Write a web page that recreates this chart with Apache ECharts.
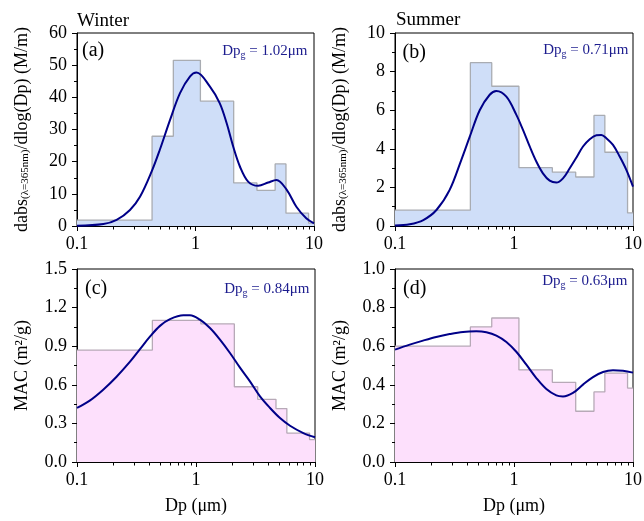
<!DOCTYPE html>
<html>
<head>
<meta charset="utf-8">
<script src="https://cdn.jsdelivr.net/npm/echarts@6/dist/echarts.min.js"></script>
<style>
  html, body { margin: 0; padding: 0; background: #fff; }
  #chart { width: 644px; height: 521px; }
</style>
</head>
<body>
<div id="chart"></div>
<script>
// ---- Data ----
const binEdges = [0.1, 0.43, 0.65, 1.1, 2.1, 3.3, 4.7, 5.8, 9.0, 10];
const minorTickPos = [0.2, 0.3, 0.4, 0.5, 0.6, 0.7, 0.8, 0.9, 2, 3, 4, 5, 6, 7, 8, 9];

const winterAbs = [1.8, 27.9, 51.5, 38.8, 13.4, 11.1, 19.3, 4.0, 0.9];
const summerAbs = [0.82, 8.46, 7.24, 3.02, 2.79, 2.54, 5.73, 3.82, 0.68];
const winterMAC = [0.87, 1.10, 1.10, 1.073, 0.585, 0.487, 0.415, 0.225, 0.174];
const summerMAC = [0.60, 0.70, 0.746, 0.477, 0.413, 0.263, 0.363, 0.461, 0.383];

const winterAbsFitX = [0.1, 0.167, 0.216, 0.28, 0.34, 0.426, 0.50, 0.61, 0.74, 0.90, 1.02, 1.32, 1.60, 1.83, 2.08, 2.37, 2.78, 3.38, 4.1, 4.82, 5.85, 7.1, 8.6, 10];
const winterAbsFitY = [0.05, 0.6, 1.9, 5.0, 9.1, 16.9, 23.7, 33.0, 41.3, 46.5, 47.7, 43.4, 38.2, 32.0, 24.7, 18.5, 13.8, 12.5, 13.5, 14.3, 11.4, 6.0, 2.4, 0.8];

const summerAbsFitX = [0.1, 0.133, 0.173, 0.223, 0.288, 0.361, 0.425, 0.515, 0.625, 0.71, 0.863, 1.047, 1.19, 1.355, 1.54, 1.75, 1.995, 2.27, 2.58, 2.94, 3.34, 3.80, 4.33, 4.92, 5.42, 5.97, 6.79, 7.73, 8.79, 10];
const summerAbsFitY = [0.02, 0.09, 0.31, 0.83, 1.87, 3.43, 4.63, 6.0, 6.8, 7.0, 6.7, 5.76, 4.98, 4.12, 3.34, 2.73, 2.35, 2.25, 2.47, 2.99, 3.54, 4.12, 4.50, 4.70, 4.72, 4.55, 4.20, 3.60, 2.91, 2.04];

const winterMACFitX = [0.1, 0.128, 0.166, 0.215, 0.279, 0.338, 0.41, 0.498, 0.605, 0.783, 0.89, 1.08, 1.31, 1.59, 1.93, 2.35, 2.84, 3.45, 4.19, 5.08, 6.17, 7.98, 10];
const winterMACFitY = [0.42, 0.477, 0.562, 0.663, 0.78, 0.877, 0.974, 1.058, 1.11, 1.14, 1.14, 1.106, 1.041, 0.951, 0.847, 0.731, 0.627, 0.510, 0.420, 0.342, 0.282, 0.225, 0.192];

const summerMACFitX = [0.1, 0.133, 0.172, 0.222, 0.288, 0.373, 0.482, 0.586, 0.711, 0.863, 1.05, 1.27, 1.54, 1.87, 2.27, 2.58, 3.13, 3.80, 4.61, 5.60, 6.79, 8.24, 10];
const summerMACFitY = [0.582, 0.608, 0.629, 0.648, 0.663, 0.674, 0.677, 0.672, 0.655, 0.622, 0.570, 0.504, 0.435, 0.378, 0.345, 0.340, 0.358, 0.401, 0.440, 0.466, 0.475, 0.473, 0.463];

const xTickLabels = ['0.1', '1', '10'];
const panelLabels = ['(a)', '(b)', '(c)', '(d)'];
const seasonLabels = ['Winter', 'Summer'];
const dpgValues = ['1.02', '0.71', '0.84', '0.63'];

// ---- Build ----
const FONT = '"Liberation Serif", "Times New Roman", serif';
const NAVY = '#000088';
const DPG_COLOR = '#1c1c8e';

function stepData(vals) {
  const d = vals.map((v, i) => [binEdges[i], v]);
  d.push([binEdges[binEdges.length - 1], vals[vals.length - 1]]);
  return d;
}
function pairs(xs, ys) { return xs.map((x, i) => [x, ys[i]]); }

const grids = [
  { left: 77, top: 33, width: 237, height: 193 },
  { left: 395, top: 33, width: 238, height: 193 },
  { left: 77, top: 269, width: 238, height: 193 },
  { left: 395, top: 269, width: 238, height: 193 }
].map(g => Object.assign({ show: true, borderColor: '#000', borderWidth: 1, backgroundColor: 'transparent', outerBoundsMode: 'none', containLabel: false }, g));

const yCfg = [
  { min: 0, max: 60, interval: 10, dec: 0 },
  { min: 0, max: 10, interval: 2, dec: 0 },
  { min: 0, max: 1.5, interval: 0.3, dec: 1 },
  { min: 0, max: 1.0, interval: 0.2, dec: 1 }
];
const absName = 'dabs{s|(λ=365nm)}/dlog(Dp) (M/m)';
const macName = 'MAC (m²/g)';

const xAxes = grids.map((g, i) => ({
  type: 'log', logBase: 10, gridIndex: i, min: 0.1, max: 10,
  name: i >= 2 ? 'Dp (μm)' : '', nameLocation: 'middle', nameGap: 35,
  nameTextStyle: { fontFamily: FONT, fontSize: 18, color: '#000' },
  axisLine: { show: true, lineStyle: { color: '#000', width: 1 } },
  axisTick: { show: true, inside: false, length: 5, lineStyle: { color: '#000' } },
  splitLine: { show: false },
  minorTick: { show: false },
  axisLabel: {
    fontFamily: FONT, fontSize: 18, color: '#000', margin: 9,
    formatter: v => { const s = String(+Number(v).toPrecision(3)); return xTickLabels.indexOf(s) >= 0 ? s : ''; }
  }
}));

const yAxes = grids.map((g, i) => ({
  type: 'value', gridIndex: i, min: yCfg[i].min, max: yCfg[i].max, interval: yCfg[i].interval,
  name: i < 2 ? absName : macName, nameLocation: 'middle', nameGap: 46, nameRotate: 90,
  nameTextStyle: { fontFamily: FONT, fontSize: 18, color: '#000',
    rich: { s: { fontFamily: FONT, fontSize: 11, color: '#000', verticalAlign: 'bottom', lineHeight: 10 } } },
  axisLine: { show: true, lineStyle: { color: '#000', width: 1 } },
  axisTick: { show: true, inside: false, length: 5, lineStyle: { color: '#000' } },
  minorTick: { show: true, splitNumber: 2, length: 3, lineStyle: { color: '#000' } },
  splitLine: { show: false },
  axisLabel: { fontFamily: FONT, fontSize: 18, color: '#000', margin: 10,
    formatter: v => Number(v).toFixed(yCfg[i].dec) }
}));

const histData = [winterAbs, summerAbs, winterMAC, summerMAC];
const fitData = [pairs(winterAbsFitX, winterAbsFitY), pairs(summerAbsFitX, summerAbsFitY), pairs(winterMACFitX, winterMACFitY), pairs(summerMACFitX, summerMACFitY)];
const fills = ['#cfdef8', '#cfdef8', '#fde0fc', '#fde0fc'];
const edgesCol = ['#a9acb2', '#a9acb2', '#b7a9b7', '#b7a9b7'];

function renderMinorTick(params, api) {
  const p = api.coord([api.value(0), api.value(1)]);
  const x = Math.round(p[0]) + 0.5;
  return { type: 'line', shape: { x1: x, y1: p[1], x2: x, y2: p[1] + 3.5 }, style: { stroke: '#000', lineWidth: 1 } };
}

const series = [];
for (let i = 0; i < 4; i++) {
  series.push({
    type: 'line', xAxisIndex: i, yAxisIndex: i, step: 'end', symbol: 'none',
    data: stepData(histData[i]), z: 1, silent: true,
    lineStyle: { color: edgesCol[i], width: 1.3 },
    areaStyle: { color: fills[i], opacity: 1 }
  });
  series.push({
    type: 'line', xAxisIndex: i, yAxisIndex: i, smooth: 0.35, symbol: 'none',
    data: fitData[i], z: 3, silent: true,
    lineStyle: { color: NAVY, width: 2 }
  });
  series.push({
    type: 'custom', xAxisIndex: i, yAxisIndex: i, clip: false, silent: true, z: 5,
    renderItem: renderMinorTick,
    encode: { x: 0, y: 1 },
    data: minorTickPos.map(x => [x, yCfg[i].min])
  });
}

const labelPos = [
  { px: 82, py: 51, dx: 307.5, dy: 51 },
  { px: 402.5, py: 52.5, dx: 628.5, dy: 50 },
  { px: 85, py: 288.5, dx: 309.5, dy: 289.5 },
  { px: 403, py: 289, dx: 627.5, dy: 281 }
];
const graphic = [];
graphic.push({ type: 'text', x: 77, y: 21, style: { text: seasonLabels[0], font: '19px ' + FONT, fill: '#000', textAlign: 'left', textVerticalAlign: 'middle' } });
graphic.push({ type: 'text', x: 396, y: 20.5, style: { text: seasonLabels[1], font: '19px ' + FONT, fill: '#000', textAlign: 'left', textVerticalAlign: 'middle' } });
labelPos.forEach((p, i) => {
  graphic.push({ type: 'text', x: p.px, y: p.py, z: 10, style: { text: panelLabels[i], font: '20px ' + FONT, fill: '#000', textAlign: 'left', textVerticalAlign: 'middle' } });
  graphic.push({ type: 'text', x: p.dx, y: p.dy, z: 10, style: {
    text: '{m|Dp}{s|g}{m| = ' + dpgValues[i] + 'μm}',
    textAlign: 'right', textVerticalAlign: 'middle',
    rich: {
      m: { fontFamily: FONT, fontSize: 15, fill: DPG_COLOR, lineHeight: 18, verticalAlign: 'middle' },
      s: { fontFamily: FONT, fontSize: 10, fill: DPG_COLOR, lineHeight: 8, verticalAlign: 'bottom' }
    }
  } });
});

const chart = echarts.init(document.getElementById('chart'), null, { renderer: 'canvas' });
chart.setOption({
  animation: false,
  backgroundColor: '#fff',
  grid: grids,
  xAxis: xAxes,
  yAxis: yAxes,
  series: series,
  graphic: graphic
});
</script>
</body>
</html>
